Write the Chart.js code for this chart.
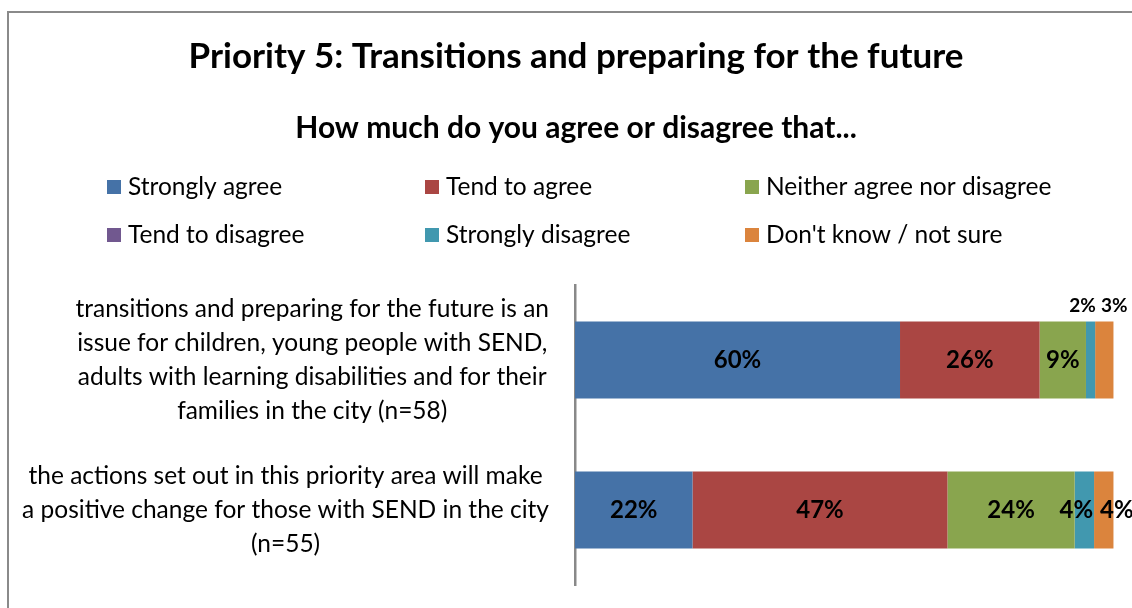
<!DOCTYPE html>
<html>
<head>
<meta charset="utf-8">
<title>Priority 5: Transitions and preparing for the future</title>
<script src="https://cdn.jsdelivr.net/npm/chart.js@4.4.1/dist/chart.umd.min.js"></script>
<style>
  html, body { margin: 0; padding: 0; background: #fff; overflow: hidden; }
  #wrap { position: relative; width: 1132px; height: 608px; }
  #frame { position: absolute; left: 7px; top: 11px; width: 1300px; height: 800px;
           border-left: 2px solid #8a8a8a; border-top: 2px solid #8a8a8a; }
  #chart { position: absolute; left: 0; top: 0; }
</style>
</head>
<body>
<div id="wrap">
  <div id="frame"></div>
  <canvas id="chart" width="1132" height="608"></canvas>
</div>
<script>
// DATA
const categories = [
  ['transitions and preparing for the future is an',
   'issue for children, young people with SEND,',
   'adults with learning disabilities and for their',
   'families in the city (n=58)'],
  ['the actions set out in this priority area will make',
   'a positive change for those with SEND in the city',
   '(n=55)']
];
const seriesNames = ['Strongly agree', 'Tend to agree', 'Neither agree nor disagree',
                     'Tend to disagree', 'Strongly disagree', "Don't know / not sure"];
const stronglyAgree    = [60.3, 21.8];
const tendToAgree      = [25.9, 47.3];
const neither          = [8.6, 23.6];
const tendToDisagree   = [0, 0];
const stronglyDisagree = [1.7, 3.6];
const dontKnow         = [3.4, 3.6];

const seriesValues = [stronglyAgree, tendToAgree, neither, tendToDisagree, stronglyDisagree, dontKnow];
const seriesColors = ['#4572A7', '#AA4643', '#89A54E', '#71588F', '#4198AF', '#DB843D'];

const FONT = 'Lato, Calibri, "Open Sans", sans-serif';

// small labels that Excel had nudged away from the middle of their segment
const labelNudge = {
  '4,0': { dx: -8, above: true },
  '5,0': { dx: 10, above: true },
  '4,1': { dx: -8 },
  '5,1': { dx: 13 }
};

// category labels: each block centred on its own widest line, right edge fixed
const yLabelsPlugin = {
  id: 'yLabels',
  afterDraw(chart) {
    const ctx = chart.ctx;
    const yScale = chart.scales.y;
    const rightEdge = chart.chartArea.left - 26;
    const lineH = 34;
    ctx.save();
    ctx.font = '24.5px ' + FONT;
    ctx.fillStyle = '#000';
    ctx.textAlign = 'center';
    ctx.textBaseline = 'middle';
    chart.data.labels.forEach((lines, i) => {
      const widest = Math.max(...lines.map(l => ctx.measureText(l).width));
      const cx = rightEdge - widest / 2;
      const cy = yScale.getPixelForValue(i);
      const top = cy - (lines.length - 1) * lineH / 2;
      lines.forEach((l, k) => ctx.fillText(l, cx, top + k * lineH));
    });
    ctx.restore();
  }
};

// percentage labels on the segments
const valueLabelsPlugin = {
  id: 'valueLabels',
  afterDatasetsDraw(chart) {
    const ctx = chart.ctx;
    ctx.save();
    ctx.fillStyle = '#000';
    ctx.textAlign = 'center';
    ctx.textBaseline = 'middle';
    chart.data.datasets.forEach((ds, d) => {
      const meta = chart.getDatasetMeta(d);
      meta.data.forEach((bar, i) => {
        const v = ds.data[i];
        if (!v) return;
        const nudge = labelNudge[d + ',' + i] || {};
        const x = (bar.x + bar.base) / 2 + (nudge.dx || 0);
        let y = bar.y;
        if (nudge.above) {
          y = bar.y - bar.height / 2 - 16;
          ctx.font = 'bold 19px ' + FONT;
        } else {
          ctx.font = 'bold 24px ' + FONT;
        }
        ctx.fillText(Math.round(v) + '%', x, y);
      });
    });
    ctx.restore();
  }
};

// legend in three fixed columns
const gridLegendPlugin = {
  id: 'gridLegend',
  afterDraw(chart) {
    const ctx = chart.ctx;
    const colX = [107, 425, 745];
    const rowY = [187, 235];
    ctx.save();
    ctx.font = '24.5px ' + FONT;
    ctx.textBaseline = 'middle';
    ctx.textAlign = 'left';
    chart.data.datasets.forEach((ds, i) => {
      const x = colX[i % 3];
      const y = rowY[Math.floor(i / 3)];
      ctx.fillStyle = ds.backgroundColor;
      ctx.fillRect(x, y - 7, 14, 14);
      ctx.fillStyle = '#000';
      ctx.fillText(ds.label, x + 21, y);
    });
    ctx.restore();
  }
};

const ctx = document.getElementById('chart').getContext('2d');
const chart = new Chart(ctx, {
  type: 'bar',
  data: {
    labels: categories,
    datasets: seriesNames.map((name, i) => ({
      label: name,
      data: seriesValues[i],
      backgroundColor: seriesColors[i],
      borderWidth: 0,
      barPercentage: 1,
      categoryPercentage: 0.513
    }))
  },
  options: {
    indexAxis: 'y',
    responsive: false,
    animation: false,
    layout: { padding: { top: 12, left: 38, right: 18, bottom: 23 } },
    plugins: {
      legend: { display: false },
      tooltip: { enabled: false },
      title: {
        display: true,
        text: 'Priority 5: Transitions and preparing for the future',
        color: '#000',
        font: { family: FONT, size: 35, weight: 'bold' },
        padding: { top: 24, bottom: 0 }
      },
      subtitle: {
        display: true,
        text: 'How much do you agree or disagree that...',
        color: '#000',
        font: { family: FONT, size: 30, weight: 'bold' },
        padding: { top: 32, bottom: 139 }
      }
    },
    scales: {
      x: {
        stacked: true,
        display: false,
        min: 0,
        max: 100
      },
      y: {
        stacked: true,
        grid: { display: false },
        border: { display: true, color: '#898989', width: 2.5 },
        ticks: { display: false },
        afterFit(scale) { scale.width = 537; }
      }
    }
  },
  plugins: [yLabelsPlugin, valueLabelsPlugin, gridLegendPlugin]
});
</script>
</body>
</html>
